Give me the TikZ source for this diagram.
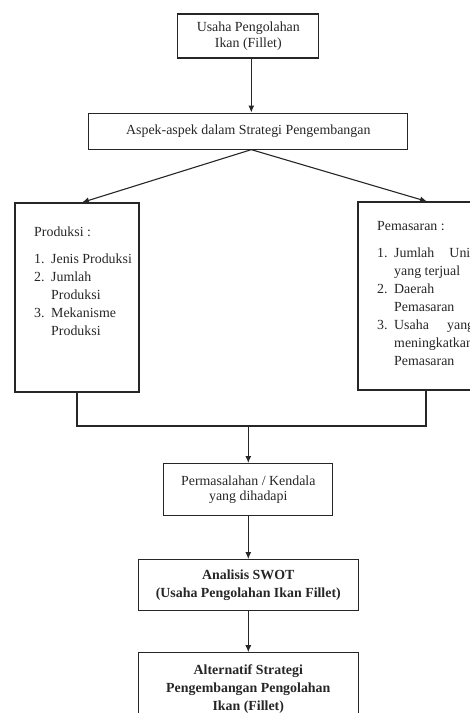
\documentclass[tikz,border=0pt]{standalone}
\usepackage{xcolor}
\usepackage{fontspec}
\setmainfont{Liberation Serif}
\usepackage{tikz}
\usetikzlibrary{positioning,arrows.meta}
\newcommand{\nomor}[1]{\makebox[17pt][l]{#1}}
\newcommand{\lanjut}{\hspace*{17pt}}

\begin{document}
\begin{tikzpicture}[x=1pt, y=1pt,
  kotak/.style={draw=black!85, line width=1.1pt, inner sep=0pt, align=center, text=black!85},
  isi/.style={inner sep=0pt, align=left, anchor=north west, text=black!85, font=\fontsize{13.9}{18}\selectfont},
  panah/.style={draw=black!85, line width=1.1pt, -{Latex[length=7pt,width=6pt]}}]
\useasboundingbox (0,0) rectangle (470,-713);
\clip (0,0) rectangle (470,-713);
\node[kotak, minimum width=141pt, minimum height=44pt, font=\fontsize{13.9}{15.5}\selectfont] (usaha) at (248.3,-36) {Usaha Pengolahan\\Ikan (Fillet)};
\node[kotak, minimum width=319pt, minimum height=36pt, font=\fontsize{13.9}{18}\selectfont, below=54pt of usaha] (aspek) {Aspek-aspek dalam Strategi Pengembangan};
\node[kotak, minimum width=124pt, minimum height=189pt] (produksi) at (77,-297.5) {};
\node[kotak, minimum width=136pt, minimum height=188pt] (pemasaran) at (426,-296) {};
\node[isi] (teksproduksi) at (34,-226.5) {Produksi :\\[9pt]
\nomor{1.}Jenis Produksi\\
\nomor{2.}Jumlah\\
\lanjut Produksi\\
\nomor{3.}Mekanisme\\
\lanjut Produksi};
\node[isi] (tekspemasaran) at (377,-220.7) {Pemasaran :\\[9pt]
\nomor{1.}\makebox[80pt][s]{Jumlah Unit}\\
\lanjut yang terjual\\
\nomor{2.}Daerah\\
\lanjut Pemasaran\\
\nomor{3.}\makebox[80pt][s]{Usaha yang}\\
\lanjut meningkatkan\\
\lanjut Pemasaran};
\coordinate (gabung) at (248.3,-426);
\node[kotak, minimum width=169pt, minimum height=52pt, font=\fontsize{13.9}{15.5}\selectfont, below=37pt of gabung] (masalah) {Permasalahan / Kendala\\yang dihadapi};
\node[kotak, minimum width=220pt, minimum height=51pt, font=\fontsize{13.9}{18}\selectfont\bfseries, below=43pt of masalah] (swot) {Analisis SWOT\\(Usaha Pengolahan Ikan Fillet)};
\node[kotak, minimum width=220pt, minimum height=72pt, font=\fontsize{13.9}{18}\selectfont\bfseries, below=41pt of swot] (alternatif) {Alternatif Strategi\\Pengembangan Pengolahan\\Ikan (Fillet)};
\draw[panah] ([xshift=3pt]usaha.south) -- ([xshift=3pt]aspek.north);
\draw[panah] ([xshift=3pt]aspek.south) -- ([xshift=5pt]produksi.north);
\draw[panah] ([xshift=3pt]aspek.south) -- ([xshift=1pt]pemasaran.north);
\draw[draw=black!85, line width=1.1pt] (produksi.south) |- (gabung) -| (pemasaran.south);
\draw[panah] (gabung) -- (masalah);
\draw[panah] (masalah) -- (swot);
\draw[panah] (swot) -- (alternatif);
\end{tikzpicture}
\end{document}
